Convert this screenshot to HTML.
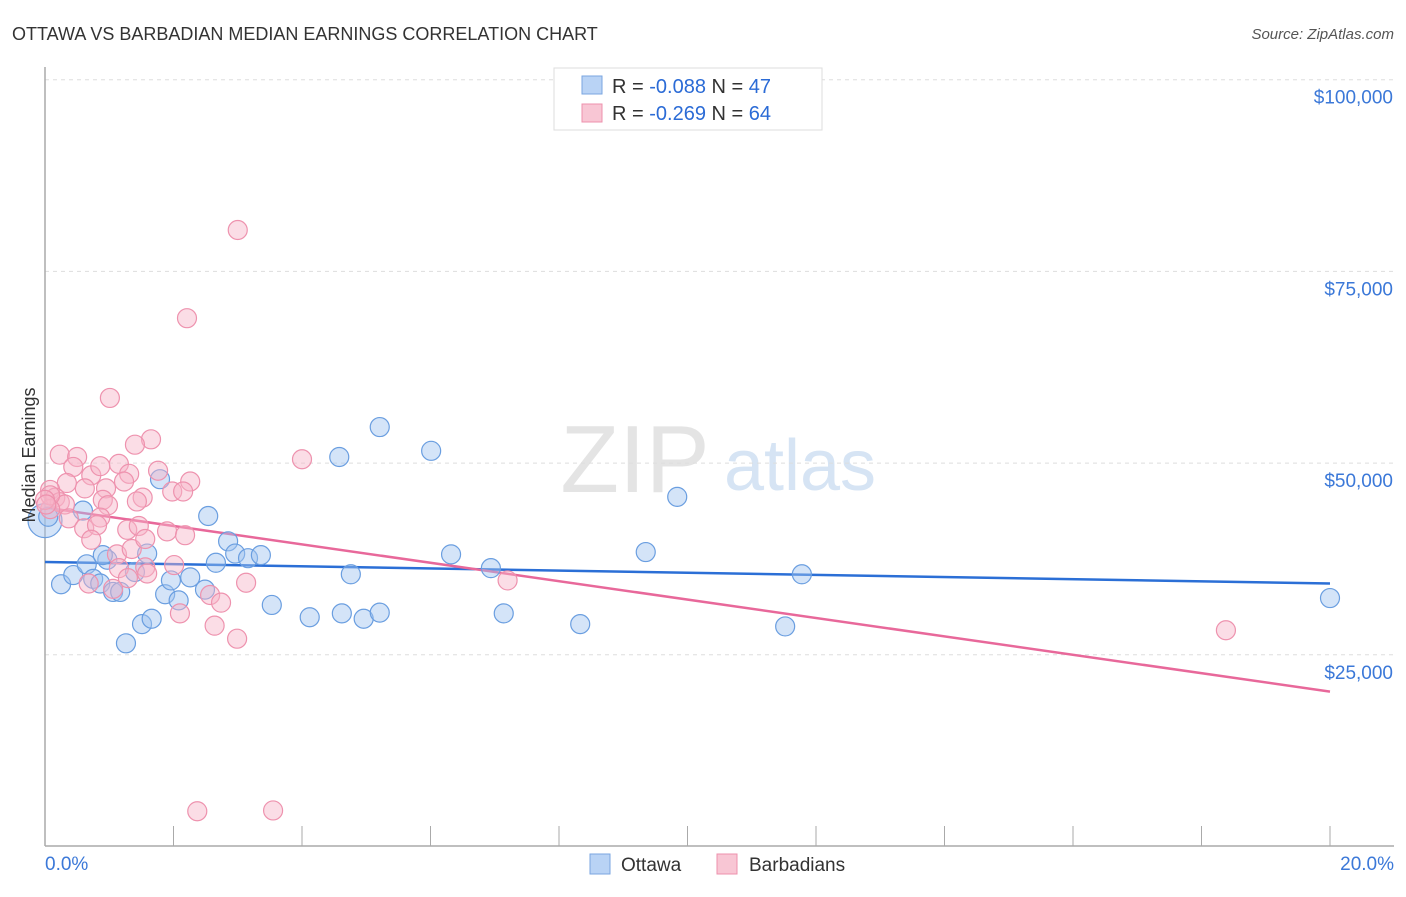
<!DOCTYPE html>
<html><head><meta charset="utf-8"><style>
body{margin:0;background:#fff;font-family:"Liberation Sans",sans-serif;}
svg text{font-family:"Liberation Sans",sans-serif;}
</style></head><body>
<svg id="chart" width="1406" height="892" xmlns="http://www.w3.org/2000/svg">
<text x="12" y="40" font-size="18" fill="#333">OTTAWA VS BARBADIAN MEDIAN EARNINGS CORRELATION CHART</text>
<text x="1394" y="39" font-size="15" fill="#555" font-style="italic" text-anchor="end">Source: ZipAtlas.com</text>
<text x="635" y="492" font-size="96" fill="#e4e4e4" font-family="Liberation Serif" text-anchor="middle">ZIP</text>
<text x="800" y="490" font-size="72" fill="#d6e4f4" text-anchor="middle">atlas</text>
<g id="grid"></g><g id="axes"></g><g id="trend"></g><g id="pts"></g>
<text transform="translate(35,455) rotate(-90)" font-size="18" fill="#333" text-anchor="middle">Median Earnings</text>
<g>
<rect x="554" y="68" width="268" height="62" fill="#fff" stroke="#ddd"/>
<rect x="582" y="76" width="20" height="18" fill="#b9d3f5" stroke="#7aa6e0"/>
<text x="612" y="93" font-size="20" fill="#333">R = <tspan fill="#2b6bd6">-0.088</tspan>   N = <tspan fill="#2b6bd6">47</tspan></text>
<rect x="582" y="104" width="20" height="18" fill="#f8c6d4" stroke="#ee90ac"/>
<text x="612" y="120" font-size="20" fill="#333">R = <tspan fill="#2b6bd6">-0.269</tspan>   N = <tspan fill="#2b6bd6">64</tspan></text>
</g>
<g>
<rect x="590" y="854" width="20" height="20" fill="#b9d3f5" stroke="#7aa6e0"/>
<text x="621" y="871" font-size="19" fill="#333">Ottawa</text>
<rect x="717" y="854" width="20" height="20" fill="#f8c6d4" stroke="#ee90ac"/>
<text x="749" y="871" font-size="19" fill="#333">Barbadians</text>
</g>
</svg>
<script>
const yTicks=[25000,50000,75000,100000];
const yTickLabels=["$25,000","$50,000","$75,000","$100,000"];
const xTickLabels=["0.0%","20.0%"];
const ottawaX=[0,0.05,0.25,0.44,0.59,0.65,0.75,0.86,0.97,1.06,1.17,1.26,1.4,1.51,1.59,1.66,1.79,1.87,1.96,2.08,2.26,2.49,2.54,2.66,2.85,2.96,3.16,3.36,3.53,4.12,4.58,4.62,4.76,4.96,5.21,5.21,6.01,6.32,6.94,7.14,8.33,9.35,9.84,11.52,11.78,20.0,0.9];
const ottawaY=[42500,43000,34200,35400,43800,36800,34900,34300,37400,33200,33200,26500,35800,29000,38200,29700,47900,32900,34700,32100,35100,33500,43100,37000,39800,38200,37600,38000,31500,29900,50800,30400,35500,29700,30500,54700,51600,38100,36300,30400,29000,38400,45600,28700,35500,32400,38000];
const barbX=[3.0,2.21,1.01,1.65,1.4,0.23,0.5,0.44,1.15,1.31,0.72,4.0,2.26,1.98,2.15,1.23,1.52,1.43,0.95,0.62,0.34,0.08,0.16,0.23,0.31,0.08,0.9,0.98,0.86,0.37,0.61,0.81,1.28,1.46,1.9,2.18,0.72,1.12,1.35,1.15,1.56,1.59,2.01,1.29,0.68,1.06,2.57,3.13,2.74,2.1,2.64,2.99,7.2,18.38,2.37,3.55,1.76,0.08,0,0.86,1.56,0.02];
const barbY=[80400,68900,58500,53100,52400,51100,50800,49500,49900,48600,48400,50500,47600,46300,46300,47600,45500,45000,46700,46700,47400,46500,45500,44900,44600,44000,45200,44500,42900,42800,41500,41900,41300,41800,41100,40600,40000,38100,38800,36300,36400,35600,36700,35000,34300,33600,32800,34400,31800,30400,28800,27100,34700,28200,4600,4700,49000,45800,45200,49600,40100,44600];
const ottawaTrend=[37100,34300];
const barbTrend=[44200,20200];
const X0=45,X1=1330,Y0=846.5,YS=191.7/25000;
const sx=v=>X0+(v/20)*(X1-X0);
const sy=v=>Y0-v*YS;
const NS="http://www.w3.org/2000/svg";
function mk(tag,attrs,parent){const e=document.createElementNS(NS,tag);for(const k in attrs)e.setAttribute(k,attrs[k]);document.getElementById(parent).appendChild(e);return e;}
yTicks.forEach((t,i)=>{
 const g=mk('line',{x1:X0,x2:1394,y1:sy(t),y2:sy(t),stroke:'#ddd','stroke-dasharray':'4,4'},'grid');
 
 
 const tx=mk('text',{x:1393,y:sy(t)+24,'font-size':19,fill:'#3b78d8','text-anchor':'end'},'grid');
 tx.textContent=yTickLabels[i];
 
 
});
const ax=mk('line',{x1:X0,x2:X0,y1:67,y2:846,stroke:'#aaa','stroke-width':1.5},'axes');


const bx=mk('line',{x1:X0,x2:1394,y1:846,y2:846,stroke:'#aaa','stroke-width':1.5},'axes');


for(let i=1;i<=10;i++){const tk=mk('line',{x1:sx(i*2),x2:sx(i*2),y1:826,y2:846,stroke:'#aaa'},'axes');
 
 }
[[0,'start',45],[20,'end',1394]].forEach((d,i)=>{const t=mk('text',{x:d[2],y:870,'font-size':19,fill:'#3b78d8','text-anchor':d[1]},'axes');t.textContent=xTickLabels[i];
 
 });
ottawaX.forEach((v,i)=>{const c=mk('circle',{cx:sx(v),cy:sy(ottawaY[i]),r:i==0?17:9.5,fill:'rgba(160,196,240,0.45)',stroke:'#6a9ee0','stroke-width':1.2},'pts');
 
 });
barbX.forEach((v,i)=>{const c=mk('circle',{cx:sx(v),cy:sy(barbY[i]),r:9.5,fill:'rgba(246,180,200,0.45)',stroke:'#ee92ae','stroke-width':1.2},'pts');
 
 });
const l1=mk('line',{x1:sx(0),y1:sy(ottawaTrend[0]),x2:sx(20),y2:sy(ottawaTrend[1]),stroke:'#2b6fd6','stroke-width':2.5},'trend');


const l2=mk('line',{x1:sx(0),y1:sy(barbTrend[0]),x2:sx(20),y2:sy(barbTrend[1]),stroke:'#e8689a','stroke-width':2.5},'trend');


</script>
</body></html>
